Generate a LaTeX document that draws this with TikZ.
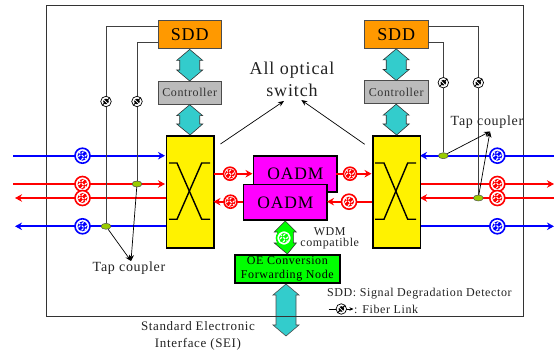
\documentclass[tikz,border=0pt]{standalone}
\usepackage{fontspec}
\setmainfont[LetterSpace=5]{Liberation Serif}
\usetikzlibrary{arrows.meta,calc,shapes.geometric}
\definecolor{cOrange}{HTML}{FF9900}
\definecolor{cTeal}{HTML}{33CCCC}
\definecolor{cGray}{HTML}{BBBBBB}
\definecolor{cOlive}{HTML}{99CC00}
\definecolor{cText}{HTML}{222222}
\definecolor{cMag}{HTML}{FF00FF}
\definecolor{cBlue}{HTML}{0000FF}
\definecolor{cRed}{HTML}{FF0000}
\definecolor{cGreen}{HTML}{00FF00}
\newcommand{\dblarrow}[4]{\draw[#1] let \p1=(#2),\p2=(#3) in
  (\x1,\y1) -- (\x1+#4pt,\y1-11pt) -- (\x1+#4pt-3pt,\y1-11pt) -- (\x1+#4pt-3pt,\y2+11pt) -- (\x1+#4pt,\y2+11pt)
  -- (\x2,\y2) -- (\x1-#4pt,\y2+11pt) -- (\x1-#4pt+3pt,\y2+11pt) -- (\x1-#4pt+3pt,\y1-11pt) -- (\x1-#4pt,\y1-11pt) -- cycle;}
\tikzset{
  box/.style={draw=#1,line width=0.9pt,inner sep=0pt,anchor=north west,align=center},
  sw/.style={box=black,line width=1.7pt,fill=yellow,minimum width=47.5pt,minimum height=112pt},
  oadm/.style={box=black,line width=1.7pt,fill=cMag,minimum width=83.5pt,minimum height=35.6pt,font=\fontsize{17.5}{17.5}\selectfont},
  sdd/.style={box={black!70},fill=cOrange,minimum width=63.5pt,minimum height=28pt,font=\fontsize{18}{18}\selectfont},
  ctrl/.style={box={black!70},fill=cGray,minimum width=63.5pt,minimum height=22.8pt,font=\fontsize{12}{12}\selectfont,text=black!80},
  fiber/.style={circle,draw=#1,line width=1.6pt,fill=white,inner sep=0pt,minimum size=15pt,
    path picture={\fill[#1] (path picture bounding box.center) circle (5pt);
      \draw[white,line width=1.1pt,dash pattern=on 2.6pt off 2pt]
      ($(path picture bounding box.center)+(-4pt,-1pt)$) -- ($(path picture bounding box.center)+(1pt,4pt)$)
      ($(path picture bounding box.center)+(-1pt,-4pt)$) -- ($(path picture bounding box.center)+(4pt,1pt)$)
      ($(path picture bounding box.center)+(-4pt,4pt)$) -- ($(path picture bounding box.center)+(4pt,-4pt)$);}},
  mini/.style={circle,draw=black,line width=0.7pt,fill=white,inner sep=0pt,minimum size=10.5pt,
    path picture={\fill[black] (path picture bounding box.center) circle (2.8pt);
      \draw[black,line width=1pt] ($(path picture bounding box.center)+(-3.5pt,-3.5pt)$) -- ($(path picture bounding box.center)+(3.5pt,3.5pt)$);
      \draw[white,line width=.7pt] ($(path picture bounding box.center)+(-3.5pt,3pt)$) -- ($(path picture bounding box.center)+(3pt,-3.5pt)$);}},
  tap/.style={ellipse,draw=black!70,line width=.5pt,fill=cOlive,inner sep=0pt,minimum width=10pt,minimum height=6pt},
  lbl/.style={inner sep=0pt,text=cText,align=center},
  wire/.style={line width=.7pt,draw=black!75},
  ln/.style={line width=1.9pt,draw=#1,-{Stealth[length=7pt,width=7.5pt]}},
  thin/.style={line width=.7pt,draw=black,-{Stealth[length=6pt,width=5pt]}},
}
\begin{document}
\begin{tikzpicture}[x=1pt,y=-1pt]
\useasboundingbox (0,0) rectangle (554,352);
\node[sdd] (sddL) at (157.5,20.5) {SDD};
\node[sdd] (sddR) at (364,20) {SDD};
\node[ctrl] (ctlL) at (157.5,81) {Controller};
\node[ctrl] (ctlR) at (364,80.5) {Controller};
\node[sw] (swL) at (165.5,135) {};
\node[sw] (swR) at (372,135) {};
\node[box=black,line width=1.7pt,fill=cGreen,minimum width=105pt,minimum height=28.3pt,font=\fontsize{12}{14}\selectfont] (oe) at (234,254) {OE Conversion\\Forwarding Node};
\coordinate (seiEnd) at (286,336);
\dblarrow{draw=black!70,fill=cTeal,line width=.6pt}{oe.south -| 286,0}{seiEnd}{13}
\draw[line width=.9pt,draw=black!80] (46,5.7) rectangle (523.7,316);
\coordinate (b1a) at (13.3,155.7); \coordinate (b1b) at (165,155.7);
\coordinate (r1a) at (13.3,184); \coordinate (r1b) at (165,184);
\coordinate (r2a) at (165.5,198); \coordinate (r2b) at (15,198);
\coordinate (b2a) at (165.5,226.3); \coordinate (b2b) at (15,226.3);
\coordinate (b3a) at (554,155.7); \coordinate (b3b) at (420,155.7);
\coordinate (r3a) at (419.5,184); \coordinate (r3b) at (554,184);
\coordinate (r4a) at (554,198); \coordinate (r4b) at (420,198);
\coordinate (b4a) at (419.5,226.3); \coordinate (b4b) at (554,226.3);
\draw[ln=cBlue] (b1a) -- (b1b);
\draw[ln=cRed] (r1a) -- (r1b);
\draw[ln=cRed] (r2a) -- (r2b);
\draw[ln=cBlue] (b2a) -- (b2b);
\draw[ln=cBlue] (b3a) -- (b3b);
\draw[ln=cRed] (r3a) -- (r3b);
\draw[ln=cRed] (r4a) -- (r4b);
\draw[ln=cBlue] (b4a) -- (b4b);
\node[tap] (tapA) at (106,226.3) {};
\node[tap] (tapB) at (137,184) {};
\node[tap] (tapC) at (443.3,155.7) {};
\node[tap] (tapD) at (478.3,198) {};
\coordinate (sL1) at (157.5,26.7); \coordinate (sL2) at (157.5,42.7);
\coordinate (sR1) at (427.7,26.3); \coordinate (sR2) at (427.7,42.7);
\draw[wire] (sL1) -| (tapA.north);
\draw[wire] (sL2) -| (tapB.north);
\draw[wire] (sR1) -| (tapD.north);
\draw[wire] (sR2) -| (tapC.north);
\node[mini] (mA) at (106,101.5) {};
\node[mini] (mB) at (137,101.5) {};
\node[mini] (mC) at (443.3,82.7) {};
\node[mini] (mD) at (478.3,82.7) {};
\node[fiber=cBlue] (f1) at (82.5,155.7) {};
\node[fiber=cRed] (f2) at (82.5,184) {};
\node[fiber=cRed] (f3) at (82.5,198) {};
\node[fiber=cBlue] (f4) at (82.5,226.3) {};
\node[fiber=cBlue] (f5) at (497.3,155.7) {};
\node[fiber=cRed] (f6) at (497.3,184) {};
\node[fiber=cRed] (f7) at (497.3,198) {};
\node[fiber=cBlue] (f8) at (497.3,226.3) {};
\node[sw] at (165.5,135) {};
\node[sw] at (372,135) {};
\draw[line width=1.4pt] (169,163) -- (177,163) -- (201.7,219.3) -- (210,219.3);
\draw[line width=1.4pt] (210,163) -- (201.7,163) -- (177,219.3) -- (169,219.3);
\draw[line width=1.4pt] (375,163) -- (384,163) -- (407.7,219.3) -- (416,219.3);
\draw[line width=1.4pt] (416,163) -- (407.7,163) -- (384,219.3) -- (375,219.3);
\node[oadm] (oU) at (252.7,155.3) {OADM};
\node[oadm] (oL) at (242.7,183.7) {OADM};
\coordinate (uLa) at (213.5,173.7); \coordinate (uRa) at (336,173.7);
\coordinate (lLa) at (242.7,201.7); \coordinate (lRa) at (372,201.7);
\coordinate (uRb) at (371.5,173.7); \coordinate (uLb) at (252.5,173.7);
\coordinate (lLb) at (213.5,201.7); \coordinate (lRb) at (327,201.7);
\draw[ln=cRed] (uLa) -- (uLb);
\draw[ln=cRed] (uRa) -- (uRb);
\draw[ln=cRed] (lLa) -- (lLb);
\draw[ln=cRed] (lRa) -- (lRb);
\node[fiber=cRed,minimum size=13pt] (f9) at (230,173.7) {};
\node[fiber=cRed,minimum size=13pt] (f10) at (350,173.7) {};
\node[fiber=cRed,minimum size=13pt] (f11) at (230.5,201.7) {};
\node[fiber=cRed,minimum size=15pt] (f12) at (349,201.7) {};
\dblarrow{draw=black!80,fill=cTeal,line width=.6pt}{sddL.south}{ctlL.north}{13}
\dblarrow{draw=black!80,fill=cTeal,line width=.6pt}{ctlL.south}{swL.north}{13}
\dblarrow{draw=black!80,fill=cTeal,line width=.6pt}{sddR.south}{ctlR.north}{13}
\dblarrow{draw=black!80,fill=cTeal,line width=.6pt}{ctlR.south}{swR.north}{13}
\dblarrow{draw=black!80,fill=cGreen,line width=.6pt}{oL.south}{oe.north}{11}
\node[fiber=cGreen,minimum size=15pt] (f13) at (284,238) {};
\coordinate (tipL) at (131,261);
\coordinate (tipR) at (490,131.5);
\draw[thin] (tapA) -- (tipL);
\draw[thin] (tapB) -- (tipL);
\draw[thin] (tapC) -- (tipR);
\draw[thin] (tapD) -- (tipR);
\coordinate (as1) at (220.5,144); \coordinate (asT1) at (284,101);
\coordinate (as2) at (364.7,144.3); \coordinate (asT2) at (301.3,100);
\draw[thin] (as1) -- (asT1);
\draw[thin] (as2) -- (asT2);
\node[lbl,font=\fontsize{18}{22}\selectfont] (all) at (292,79) {All optical\\switch};
\node[lbl,font=\fontsize{14}{14}\selectfont] (tc1) at (129,268) {Tap coupler};
\node[lbl,font=\fontsize{14}{14}\selectfont] (tc2) at (487,122) {Tap coupler};
\node[lbl,font=\fontsize{12}{11.5}\selectfont] (wdm) at (329.7,238.5) {WDM\\compatible};
\node[lbl,font=\fontsize{13}{17}\selectfont] (sei) at (198,335.5) {Standard Electronic\\Interface (SEI)};
\node[lbl,anchor=west,font=\fontsize{12}{12}\selectfont] (leg1) at (327,294) {SDD: Signal Degradation Detector};
\node[lbl,anchor=west,font=\fontsize{12}{12}\selectfont] (leg2) at (354,309) {: Fiber Link};
\coordinate (legA) at (328.7,309); \coordinate (legB) at (353.5,309);
\draw[thin,-{Stealth[length=4pt,width=3.5pt]}] (legA) -- (legB);
\node[mini] (legC) at (341.3,309) {};
\end{tikzpicture}
\end{document}
